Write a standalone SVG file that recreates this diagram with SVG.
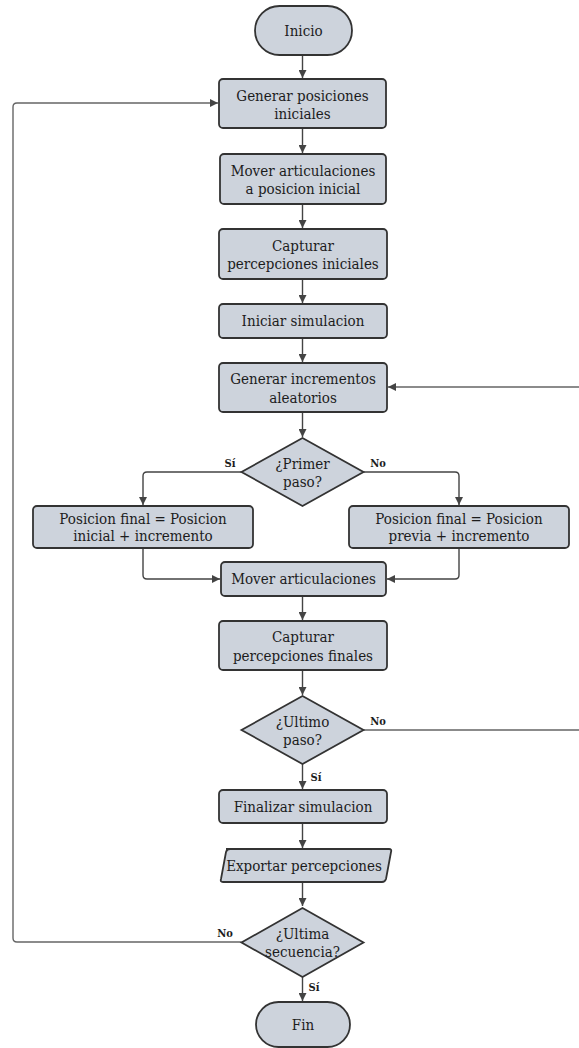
<svg xmlns="http://www.w3.org/2000/svg" width="579" height="1048" viewBox="0 0 579 1048">
  <defs>
    <style>
      .n { fill: #cdd3dc; stroke: #333; stroke-width: 1.8; }
      .t { font-family: "DejaVu Serif", "Liberation Serif", serif; font-stretch: condensed; font-size: 15px; fill: #1c1c1c; text-anchor: middle; }
      .lbl { font-family: "DejaVu Serif", "Liberation Serif", serif; font-stretch: condensed; font-size: 11px; font-weight: bold; fill: #1c1c1c; text-anchor: middle; }
      .c { fill: none; stroke: #444; stroke-width: 1.4; stroke-linejoin: round; }
      .loop { fill: none; stroke: #666; stroke-width: 1.4; stroke-linejoin: round; }
    </style>
    <marker id="ah" viewBox="0 0 10 10" refX="10" refY="5" markerWidth="8" markerHeight="8" markerUnits="userSpaceOnUse" orient="auto">
      <path d="M0,0 L10,5 L0,10 z" fill="#444"/>
    </marker>
  </defs>

  <rect width="579" height="1048" fill="#ffffff"/>

  <!-- connectors -->
  <g id="connectors">
    <path class="c" d="M302.5,55 V78" marker-end="url(#ah)"/>
    <path class="c" d="M302.5,128 V153" marker-end="url(#ah)"/>
    <path class="c" d="M302.5,204 V228" marker-end="url(#ah)"/>
    <path class="c" d="M302.5,279 V303" marker-end="url(#ah)"/>
    <path class="c" d="M302.5,338 V362" marker-end="url(#ah)"/>
    <path class="c" d="M302.5,412 V437" marker-end="url(#ah)"/>
    <!-- first step branches -->
    <path class="c" d="M241.5,472 H147 Q143,472 143,476 V505" marker-end="url(#ah)"/>
    <path class="c" d="M363.5,472 H455 Q459,472 459,476 V505" marker-end="url(#ah)"/>
    <path class="c" d="M143,548 V575 Q143,579 147,579 H220" marker-end="url(#ah)"/>
    <path class="c" d="M459,548 V575 Q459,579 455,579 H387" marker-end="url(#ah)"/>
    <path class="c" d="M302.5,596 V620" marker-end="url(#ah)"/>
    <path class="c" d="M302.5,670 V695" marker-end="url(#ah)"/>
    <!-- last step: no -> back to increments -->
    <path class="loop" d="M363.5,730 H582 V387 H388" marker-end="url(#ah)"/>
    <path class="c" d="M302.5,764 V789" marker-end="url(#ah)"/>
    <path class="c" d="M302.5,823 V848" marker-end="url(#ah)"/>
    <path class="c" d="M302.5,882 V906" marker-end="url(#ah)"/>
    <!-- last sequence: no -> back to start positions -->
    <path class="loop" d="M241.5,942 H17 Q13,942 13,938 V107 Q13,103 17,103 H218" marker-end="url(#ah)"/>
    <path class="c" d="M302.5,977 V1001" marker-end="url(#ah)"/>
    <!-- branch labels -->
    <text class="lbl" x="230" y="467">Sí</text>
    <text class="lbl" x="378" y="467">No</text>
    <text class="lbl" x="378" y="725">No</text>
    <text class="lbl" x="316" y="781">Sí</text>
    <text class="lbl" x="225" y="937">No</text>
    <text class="lbl" x="314" y="991">Sí</text>
  </g>

  <g id="inicio">
    <rect class="n" x="255" y="6" width="97" height="49" rx="24.5"/>
    <text class="t" x="303.5" y="36">Inicio</text>
  </g>

  <g id="generar-posiciones">
    <rect class="n" x="219" y="79" width="167" height="49" rx="4"/>
    <text class="t" x="302.5" y="100.5">Generar posiciones</text>
    <text class="t" x="302.5" y="119">iniciales</text>
  </g>

  <g id="mover-inicial">
    <rect class="n" x="220" y="154" width="166" height="50" rx="4"/>
    <text class="t" x="303" y="175.5">Mover articulaciones</text>
    <text class="t" x="303" y="194">a posicion inicial</text>
  </g>

  <g id="capturar-iniciales">
    <rect class="n" x="219" y="229" width="168" height="50" rx="4"/>
    <text class="t" x="303" y="250.5">Capturar</text>
    <text class="t" x="303" y="269">percepciones iniciales</text>
  </g>

  <g id="iniciar-simulacion">
    <rect class="n" x="219" y="304" width="168" height="34" rx="4"/>
    <text class="t" x="303" y="326">Iniciar simulacion</text>
  </g>

  <g id="generar-incrementos">
    <rect class="n" x="219" y="363" width="168" height="49" rx="4"/>
    <text class="t" x="303" y="384">Generar incrementos</text>
    <text class="t" x="303" y="402.5">aleatorios</text>
  </g>

  <g id="primer-paso">
    <polygon class="n" points="302.5,438 363.5,472 302.5,506 241.5,472"/>
    <text class="t" x="302.5" y="469">¿Primer</text>
    <text class="t" x="302.5" y="487">paso?</text>
  </g>

  <g id="posicion-inicial-incremento">
    <rect class="n" x="33" y="506" width="220" height="42" rx="4"/>
    <text class="t" x="143" y="524">Posicion final = Posicion</text>
    <text class="t" x="143" y="541">inicial + incremento</text>
  </g>

  <g id="posicion-previa-incremento">
    <rect class="n" x="349" y="506" width="220" height="42" rx="4"/>
    <text class="t" x="459" y="524">Posicion final = Posicion</text>
    <text class="t" x="459" y="541">previa + incremento</text>
  </g>

  <g id="mover-articulaciones">
    <rect class="n" x="221" y="562" width="165" height="34" rx="4"/>
    <text class="t" x="303.5" y="584">Mover articulaciones</text>
  </g>

  <g id="capturar-finales">
    <rect class="n" x="219" y="621" width="168" height="49" rx="4"/>
    <text class="t" x="303" y="642">Capturar</text>
    <text class="t" x="303" y="660.5">percepciones finales</text>
  </g>

  <g id="ultimo-paso">
    <polygon class="n" points="302.5,696 363.5,730 302.5,764 241.5,730"/>
    <text class="t" x="302.5" y="727">¿Ultimo</text>
    <text class="t" x="302.5" y="745">paso?</text>
  </g>

  <g id="finalizar-simulacion">
    <rect class="n" x="219" y="790" width="168" height="33" rx="4"/>
    <text class="t" x="303" y="811.5">Finalizar simulacion</text>
  </g>

  <g id="exportar-percepciones">
    <path class="n" d="M226,849 H389 Q392,849 391,852 L386,879 Q385,882 382,882 H223 Q220,882 221,879 L226,852 Q227,849 230,849 Z"/>
    <text class="t" x="304" y="871">Exportar percepciones</text>
  </g>

  <g id="ultima-secuencia">
    <polygon class="n" points="302.5,908 363.5,942.5 302.5,977 241.5,942.5"/>
    <text class="t" x="302.5" y="939">¿Ultima</text>
    <text class="t" x="302.5" y="957">secuencia?</text>
  </g>

  <g id="fin">
    <rect class="n" x="256" y="1002" width="94" height="45" rx="22.5"/>
    <text class="t" x="303" y="1030">Fin</text>
  </g>
</svg>
